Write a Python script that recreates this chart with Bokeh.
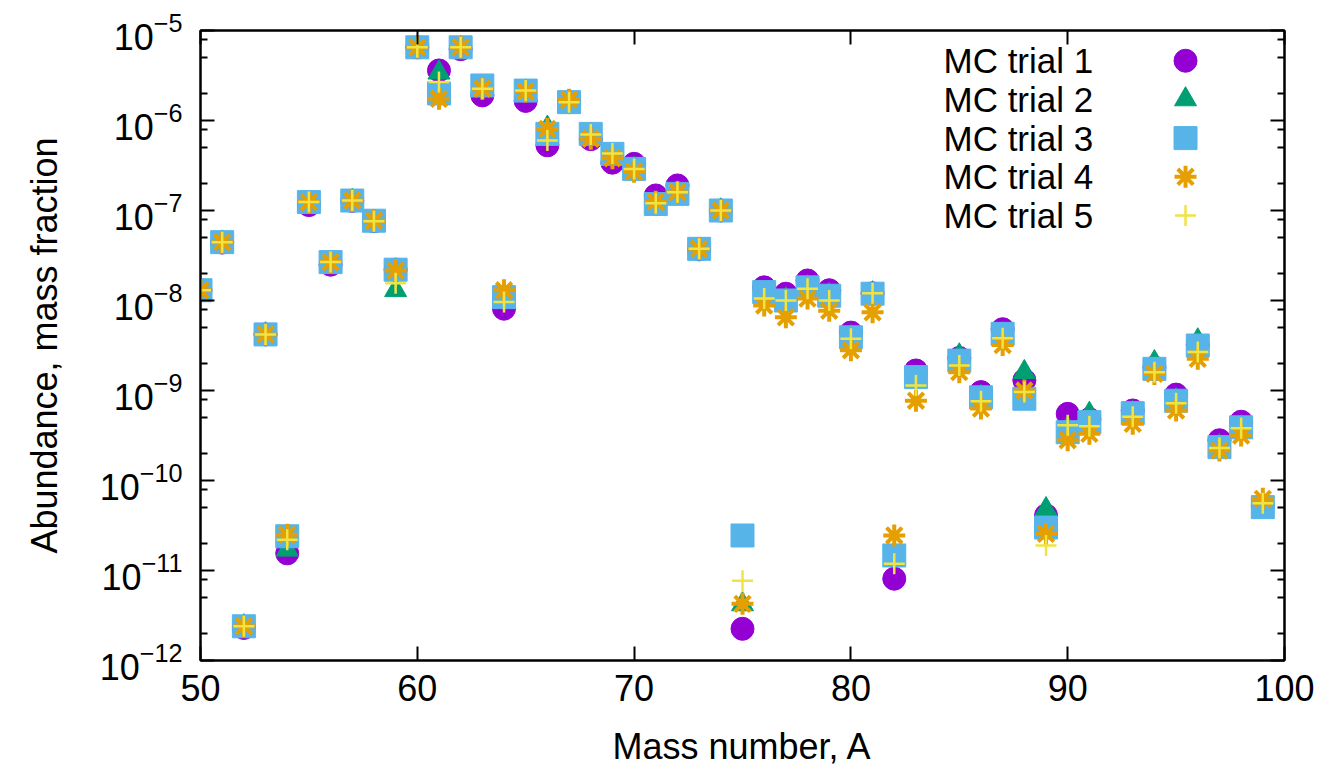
from bokeh.plotting import figure
from bokeh.models import (Range1d, FixedTicker, LinearAxis, LogAxis, CustomJSTickFormatter,
                          LinearScale, ColumnDataSource, LogTickFormatter)
from bokeh.core.properties import value
from bokeh.embed import file_html
from bokeh.resources import INLINE

# ---------------- data ----------------
mass_number = [50, 51, 52, 53, 54, 55, 56, 57, 58, 59, 60, 61, 62, 63, 64, 65, 66, 67, 68, 69,
               70, 71, 72, 73, 74, 75, 76, 77, 78, 79, 80, 81, 82, 83, 85, 86, 87, 88, 89, 90,
               91, 93, 94, 95, 96, 97, 98, 99]

trial1 = [1.3e-8, 4.4e-8, 2.3e-12, 4.2e-9, 1.55e-11, 1.15e-7, 2.5e-8, 1.28e-7, 7.6e-8, 2.2e-8,
          6.5e-6, 3.6e-6, 6.2e-6, 1.9e-6, 8.1e-9, 1.65e-6, 5.3e-7, 1.6e-6, 6.2e-7, 3.4e-7,
          3.3e-7, 1.47e-7, 1.9e-7, 3.7e-8, 1.0e-7, 2.25e-12, 1.4e-8, 1.19e-8, 1.67e-8, 1.3e-8,
          4.4e-9, 1.2e-8, 8.1e-12, 1.67e-9, 2.3e-9, 9.6e-10, 4.8e-9, 1.3e-9, 4.1e-11, 5.5e-10,
          4.8e-10, 6.0e-10, 1.8e-9, 9.0e-10, 3.2e-9, 2.8e-10, 4.5e-10, 5.2e-11]

trial2 = [1.3e-8, 4.4e-8, 2.4e-12, 4.2e-9, 1.7e-11, 1.2e-7, 2.6e-8, 1.28e-7, 7.0e-8, 1.3e-8,
          6.5e-6, 3.4e-6, 6.4e-6, 2.3e-6, 1.1e-8, 2.1e-6, 8.3e-7, 1.45e-6, 6.8e-7, 4.0e-7,
          2.9e-7, 1.1e-7, 1.55e-7, 3.4e-8, 1.0e-7, 4.2e-12, 1.2e-8, 1.03e-8, 1.4e-8, 1.15e-8,
          3.9e-9, 1.2e-8, 1.5e-11, 1.4e-9, 2.45e-9, 8.5e-10, 4.2e-9, 1.6e-9, 4.8e-11, 3.8e-10,
          5.5e-10, 5.6e-10, 2.06e-9, 7.8e-10, 3.6e-9, 2.4e-10, 3.9e-10, 5.1e-11]

trial3 = [1.3e-8, 4.45e-8, 2.4e-12, 4.2e-9, 2.4e-11, 1.24e-7, 2.67e-8, 1.29e-7, 7.7e-8, 2.2e-8,
          6.5e-6, 2.0e-6, 6.5e-6, 2.45e-6, 1.09e-8, 2.15e-6, 7.1e-7, 1.6e-6, 7.1e-7, 4.26e-7,
          2.9e-7, 1.18e-7, 1.53e-7, 3.75e-8, 1.0e-7, 2.45e-11, 1.24e-8, 1.0e-8, 1.4e-8, 1.13e-8,
          3.9e-9, 1.19e-8, 1.47e-11, 1.41e-9, 2.15e-9, 8.4e-10, 4.26e-9, 8.1e-10, 3.0e-11, 3.44e-10,
          4.45e-10, 5.6e-10, 1.74e-9, 7.7e-10, 3.16e-9, 2.35e-10, 3.9e-10, 5.06e-11]

trial4 = [1.3e-8, 4.45e-8, 2.4e-12, 4.2e-9, 2.5e-11, 1.24e-7, 2.67e-8, 1.29e-7, 7.7e-8, 2.15e-8,
          6.5e-6, 1.74e-6, 6.5e-6, 2.25e-6, 1.3e-8, 2.1e-6, 8.07e-7, 1.7e-6, 6.25e-7, 3.8e-7,
          2.7e-7, 1.25e-7, 1.6e-7, 3.75e-8, 1.0e-7, 4.26e-12, 8.8e-9, 6.5e-9, 1.05e-8, 7.7e-9,
          2.8e-9, 7.4e-9, 2.45e-11, 7.7e-10, 1.6e-9, 6.3e-10, 3.2e-9, 1.0e-9, 2.55e-11, 2.8e-10,
          3.3e-10, 4.26e-10, 1.53e-9, 6.0e-10, 2.25e-9, 2.15e-10, 3.16e-10, 6.25e-11]

trial5 = [1.3e-8, 4.45e-8, 2.4e-12, 4.2e-9, 2.2e-11, 1.24e-7, 2.67e-8, 1.29e-7, 7.6e-8, 1.55e-8,
          6.5e-6, 2.67e-6, 6.5e-6, 2.25e-6, 9.6e-9, 2.15e-6, 6.0e-7, 1.6e-6, 7.0e-7, 4.3e-7,
          2.9e-7, 1.2e-7, 1.6e-7, 3.75e-8, 1.0e-7, 7.7e-12, 1.05e-8, 1.0e-8, 1.35e-8, 1.0e-8,
          3.75e-9, 1.2e-8, 1.19e-11, 1.14e-9, 1.9e-9, 7.6e-10, 3.8e-9, 9.6e-10, 1.9e-11, 4.1e-10,
          4.0e-10, 5.1e-10, 1.6e-9, 7.2e-10, 2.67e-9, 2.3e-10, 3.8e-10, 5.6e-11]

series_names = ["MC trial 1", "MC trial 2", "MC trial 3", "MC trial 4", "MC trial 5"]
x_ticks = [50, 60, 70, 80, 90, 100]
y_exponents = [-12, -11, -10, -9, -8, -7, -6, -5]

# ---------------- style ----------------
FONT = "Liberation Sans"
colors = ["#9400D3", "#009E73", "#56B4E9", "#E69F00", "#F0E442"]
markers = ["circle", "triangle", "square", "asterisk", "cross"]
sizes = [23, 22, 23, 22, 21]
line_widths = [1, 1, 1, 4, 2.5]

p = figure(frame_width=1084, frame_height=630,
           x_range=Range1d(50, 100), y_range=Range1d(1e-12, 1e-5),
           y_axis_type="log", output_backend="svg", toolbar_location=None,
           min_border_left=200, min_border_right=55, min_border_top=30, min_border_bottom=110,
           background_fill_color="white", border_fill_color="white")

p.xgrid.visible = False
p.ygrid.visible = False
p.outline_line_color = "black"
p.outline_line_width = 2

y_major = [10.0 ** e for e in y_exponents]
y_minor = [m * 10.0 ** e for e in y_exponents[:-1] for m in (2, 5, 8)]
xt = FixedTicker(ticks=x_ticks, minor_ticks=[])
yt = FixedTicker(ticks=y_major, minor_ticks=y_minor)

xa = p.xaxis[0]
ya = p.yaxis[0]
xa.ticker = xt
ya.ticker = yt
ya.formatter = LogTickFormatter()

top = LinearAxis(ticker=xt, formatter=CustomJSTickFormatter(code="return ''"))
right = LogAxis(ticker=yt, formatter=CustomJSTickFormatter(code="return ''"))
p.add_layout(top, "above")
p.add_layout(right, "right")

for ax in (xa, ya, top, right):
    ax.axis_line_color = "black"
    ax.axis_line_width = 2
    ax.major_tick_in = 14
    ax.major_tick_out = 0
    ax.minor_tick_in = 7
    ax.minor_tick_out = 0
    ax.major_tick_line_color = "black"
    ax.minor_tick_line_color = "black"
    ax.major_tick_line_width = 2
    ax.minor_tick_line_width = 2

for ax in (top, right):
    ax.major_label_text_font_size = "2px"
    ax.major_label_standoff = 0

for ax in (xa, ya):
    ax.major_label_text_font = FONT
    ax.major_label_text_font_size = "36px"
    ax.major_label_text_color = "black"
    ax.axis_label_text_font = FONT
    ax.axis_label_text_font_size = "36px"
    ax.axis_label_text_font_style = "normal"
    ax.axis_label_text_color = "black"

xa.axis_label = "Mass number, A"
xa.major_label_standoff = 14
xa.axis_label_standoff = 22
ya.axis_label = "Abundance, mass fraction"
ya.major_label_standoff = 18
ya.axis_label_standoff = 32

# ---------------- data marks ----------------
src = ColumnDataSource(dict(A=mass_number, t1=trial1, t2=trial2, t3=trial3, t4=trial4, t5=trial5))
cols = ["t1", "t2", "t3", "t4", "t5"]
for c, col, mk, sz, lw in zip(cols, colors, markers, sizes, line_widths):
    if mk in ("asterisk", "cross"):
        p.scatter(x="A", y=c, source=src, marker=mk, size=sz, line_color=col,
                  line_width=lw, fill_color=None)
    else:
        p.scatter(x="A", y=c, source=src, marker=mk, size=sz, fill_color=col,
                  line_color=col, line_width=lw)

# ---------------- key (text left, symbol right) ----------------
p.extra_x_ranges = {"key": Range1d(0, 1)}
p.extra_y_ranges = {"key": Range1d(0, 1)}
p.extra_x_scales = {"key": LinearScale()}
p.extra_y_scales = {"key": LinearScale()}

key_x_text = 0.6854
key_x_sym = 0.9087
key_y0 = 0.952
key_dy = 0.0614
key_rows = [key_y0 - i * key_dy for i in range(len(series_names))]

p.text(x=[key_x_text] * len(series_names), y=key_rows, text=series_names,
       text_font=value(FONT), text_font_size="35px", text_color="black",
       text_baseline="middle", text_align="left",
       x_range_name="key", y_range_name="key")

for i, (col, mk, sz, lw) in enumerate(zip(colors, markers, sizes, line_widths)):
    ks = ColumnDataSource(dict(x=[key_x_sym], y=[key_rows[i]]))
    if mk in ("asterisk", "cross"):
        p.scatter(x="x", y="y", source=ks, marker=mk, size=sz, line_color=col,
                  line_width=lw, fill_color=None, x_range_name="key", y_range_name="key")
    else:
        p.scatter(x="x", y="y", source=ks, marker=mk, size=sz, fill_color=col,
                  line_color=col, line_width=lw, x_range_name="key", y_range_name="key")

open("out.html", "w").write(file_html(p, INLINE))
